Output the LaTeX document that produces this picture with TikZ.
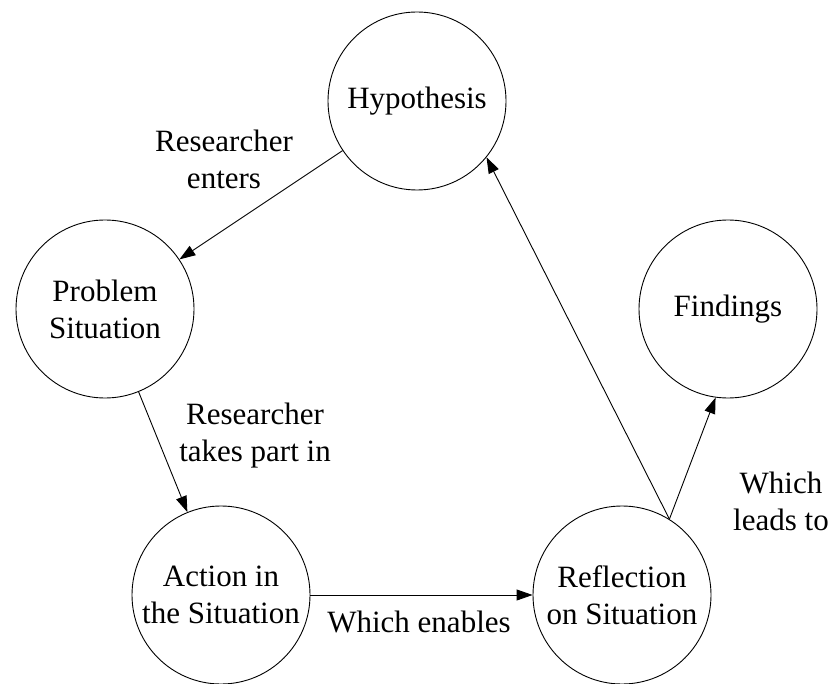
\documentclass[tikz,border=0pt]{standalone}
\usepackage{fontspec}
\setmainfont{Liberation Serif}
\usetikzlibrary{arrows.meta}
\begin{document}
\begin{tikzpicture}[x=1pt,y=-1pt,
  stage/.style={circle,draw,line width=0.9pt,minimum size=178pt,inner sep=0pt,
                align=center,font=\fontsize{31}{37}\selectfont},
  lbl/.style={align=center,inner sep=0pt,font=\fontsize{31}{37}\selectfont},
  flow/.style={line width=0.9pt,-{Triangle[length=16pt,width=11pt]}}]
\useasboundingbox (0,0) rectangle (829,684);

% stages of the cycle
\node[stage] (hyp)  at (417,101) {Hypothesis};
\node[stage] (prob) at (105,309) {Problem\\Situation};
\node[stage] (find) at (728,309) {Findings};
\node[stage] (act)  at (221,595) {Action in\\the Situation};
\node[stage] (refl) at (622,595) {Reflection\\on Situation};

% transitions
\draw[flow] (hyp) -- (prob);
\draw[flow] (prob) -- (act);
\draw[flow] (act) -- (refl);
\coordinate (split) at (refl.58);
\draw[flow] (split) -- (hyp.-39);
\draw[flow] (split) -- (find.262);

% transition labels
\node[lbl] (l1) at (224,159) {Researcher\\enters};
\node[lbl] (l2) at (255,436) {Researcher\\takes part in};
\node[lbl] (l3) at (419,622) {Which enables};
\node[lbl] (l4) at (781,501) {Which\\leads to};
\end{tikzpicture}
\end{document}
